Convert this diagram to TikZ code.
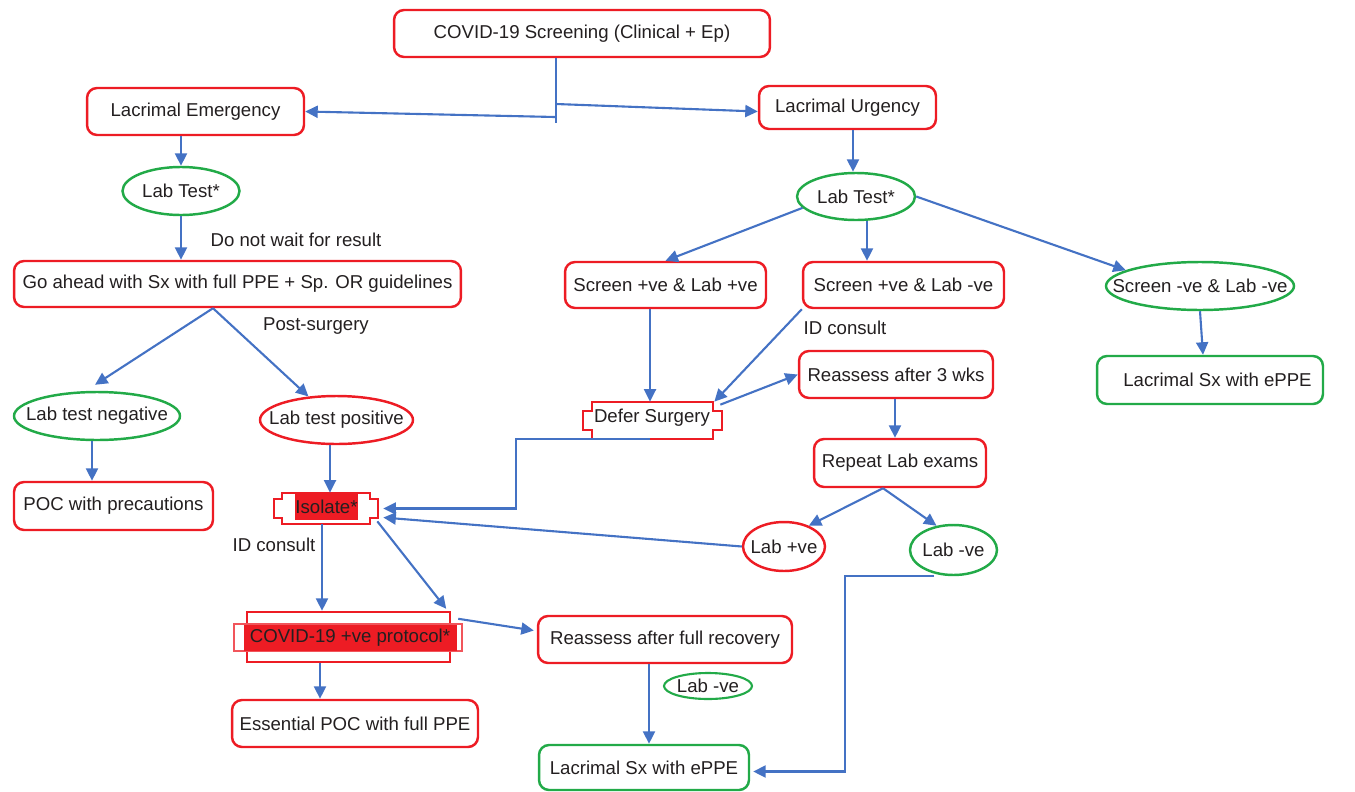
\documentclass[tikz,border=0pt]{standalone}
\usepackage{fontspec}
\setmainfont{Liberation Sans}
\usetikzlibrary{arrows.meta,calc,shapes.geometric}
\definecolor{bred}{RGB}{237,28,36}
\definecolor{bgreen}{RGB}{34,170,72}
\definecolor{ablue}{RGB}{68,114,196}
\definecolor{txt}{RGB}{35,31,32}
\tikzset{
 base/.style={font=\fontsize{10.6}{12.7}\selectfont, text=txt, inner sep=0pt, align=center},
 rbox/.style={base, draw=bred, line width=1.4pt, rounded corners=0.2cm, fill=white},
 gbox/.style={base, draw=bgreen, line width=1.4pt, rounded corners=0.2cm, fill=white},
 rell/.style={base, ellipse, draw=bred, line width=1.4pt},
 gell/.style={base, ellipse, draw=bgreen, line width=1.4pt},
 lbl/.style={base},
 arr/.style={draw=ablue, line width=1.2pt, -{Triangle[length=0.25cm,width=0.24cm]}},
}
\begin{document}
\begin{tikzpicture}[x=0.02cm,y=-0.02cm]
\useasboundingbox (0,0) rectangle (1355,791);
% ---- nodes
\node[rbox, minimum width=7.52cm, minimum height=0.94cm] (screen) at (582,33.5) {COVID-19 Screening (Clinical + Ep)};
\node[rbox, minimum width=4.34cm, minimum height=0.94cm] (lacEm) at (195.5,111.5) {Lacrimal Emergency};
\node[rbox, minimum width=3.54cm, minimum height=0.86cm] (lacUrg) at (847.5,107.5) {Lacrimal Urgency};
\node[gell, minimum width=2.34cm, minimum height=0.96cm, label={[base]center:Lab Test*}] (labEm) at (181,191) {};
\node[gell, minimum width=2.36cm, minimum height=0.94cm, label={[base]center:Lab Test*}] (labUrg) at (856,196.5) {};
\node[rbox, minimum width=8.94cm, minimum height=0.92cm] (goAhead) at (237.5,284) {Go ahead with Sx with full PPE + Sp. OR guidelines};
\node[lbl] (lblWait) at (296,240) {Do not wait for result};
\node[lbl] (lblPost) at (316,326) {Post-surgery};
\node[gell, minimum width=3.32cm, minimum height=0.96cm, label={[base]center:Lab test negative}] (labNeg) at (97,416) {};
\node[rell, minimum width=3.06cm, minimum height=0.96cm, label={[base]center:Lab test positive}] (labPos) at (336.5,420) {};
\node[rbox, minimum width=3.98cm, minimum height=0.96cm] (POC) at (113.5,506) {POC with precautions};
% isolate
\node[inner sep=0pt, minimum width=2.08cm, minimum height=0.62cm] (isolate) at (326,508.5) {};
\draw[bred, line width=1.4pt, fill=white] (282,493) -- (370,493) -- (370,499) -- (378,499) -- (378,518) -- (370,518) -- (370,524) -- (282,524) -- (282,518) -- (274,518) -- (274,499) -- (282,499) -- cycle;
\node[base, fill=bred, minimum width=1.22cm, minimum height=0.54cm] (isoTxt) at (326.5,506.5) {Isolate*};
\node[lbl] (lblID1) at (274,545) {ID consult};
% covid protocol
\node[draw=bred, line width=1.4pt, fill=white, inner sep=0pt, minimum width=4.06cm, minimum height=1.0cm] (covid) at (348.5,637) {};
\draw[bred!75, line width=1pt, fill=white] (234,624) rectangle (462,651);
\fill[bred] (244,625) rectangle (457,651);
\node[base] (covTxt) at (350,638) {COVID-19 +ve protocol*};
\node[rbox, minimum width=4.92cm, minimum height=0.94cm] (essPOC) at (355,723.5) {Essential POC with full PPE};
% right side
\node[rbox, minimum width=4.02cm, minimum height=0.92cm] (screenPP) at (665.5,285) {Screen +ve \& Lab +ve};
\node[rbox, minimum width=4.02cm, minimum height=0.92cm] (screenPN) at (903.5,285) {Screen +ve \& Lab -ve};
\node[gell, minimum width=3.76cm, minimum height=0.96cm, label={[base]center:Screen -ve \& Lab -ve}] (screenNN) at (1200,286) {};
\node[gbox, minimum width=4.52cm, minimum height=0.96cm] (lacSxR) at (1210,380) {\hspace*{0.3cm}Lacrimal Sx with ePPE};
\node[lbl] (lblID2) at (845,328) {ID consult};
\node[inner sep=0pt, minimum width=2.78cm, minimum height=0.74cm] (deferS) at (652.5,420.5) {};
\draw[bred, line width=1.4pt, fill=white] (592,402) -- (713,402) -- (713,411) -- (722,411) -- (722,430) -- (713,430) -- (713,439) -- (592,439) -- (592,430) -- (583,430) -- (583,411) -- (592,411) -- cycle;
\node[base] (defTxt) at (652,418) {Defer Surgery};
\node[rbox, minimum width=3.88cm, minimum height=0.94cm] (reassess3) at (896,374.5) {Reassess after 3 wks};
\node[rbox, minimum width=3.44cm, minimum height=0.96cm] (repeatLab) at (900,463) {Repeat Lab exams};
\node[rell, minimum width=1.64cm, minimum height=0.98cm, label={[base]center:Lab +ve}] (labPosR) at (784,546.5) {};
\node[gell, minimum width=1.74cm, minimum height=1.0cm, label={[base]center:Lab -ve}] (labNegR) at (953.5,550) {};
\node[rbox, minimum width=5.08cm, minimum height=0.94cm] (reassessFull) at (665,639.5) {Reassess after full recovery};
\node[gell, line width=1.2pt, minimum width=1.76cm, minimum height=0.52cm, label={[base]center:Lab -ve}] (labNegSmall) at (708,686) {};
\node[gbox, minimum width=4.2cm, minimum height=0.9cm] (lacSxB) at (644,767.5) {Lacrimal Sx with ePPE};
% ---- connectors
\coordinate (jL) at (555,117);
\coordinate (jR) at (556,104);
\coordinate (jB) at (556,123);
\draw[ablue, line width=0.7pt] (556,0 |- screen.south) -- (jB);
\draw[arr] (jL) -- (lacEm.east);
\draw[arr] (jR) -- ($(lacUrg.west)+(0,4)$);
\draw[arr] (181,0 |- lacEm.south) -- (labEm.north);
\draw[arr] (labEm.south) -- (181,0 |- goAhead.north);
\draw[arr] (213,0 |- goAhead.south) -- ($(labNeg.north)+(-2,-6)$);
\draw[arr] (213,0 |- goAhead.south) -- (labPos.140);
\draw[arr] (92,0 |- labNeg.south) -- (92,0 |- POC.north);
\draw[arr] (330,0 |- labPos.south) -- (330,0 |- isolate.north);
\draw[arr] (322,0 |- isolate.south) -- (322,0 |- covid.north);
\draw[arr] ($(isolate.south east)+(-1,-3)$) -- ($(covid.north east)+(-5,-2)$);
\draw[arr] ($(covid.north east)+(7,8)$) -- ($(reassessFull.west)+(-3,-9)$);
\draw[arr] (320,0 |- covid.south) -- (320,0 |- essPOC.north);
\draw[arr] (853,0 |- lacUrg.south) -- (853,0 |- labUrg.north);
\draw[arr] (labUrg.192) -- (screenPP.north);
\draw[arr] (867,0 |- labUrg.south) -- (867,0 |- screenPN.north);
\draw[arr] (labUrg.east) -- (screenNN.168);
\draw[arr] (1200,0 |- screenNN.south) -- (1203,0 |- lacSxR.north);
\draw[arr] (650,0 |- screenPP.south) -- (650,0 |- deferS.north);
\draw[arr] (screenPN.south west) -- ($(deferS.north east)+(-8,0)$);
\draw[arr] ($(deferS.north east)+(-2,3)$) -- (reassess3.west);
\draw[arr] (895,0 |- reassess3.south) -- (895,0 |- repeatLab.north);
\draw[arr] (883,0 |- repeatLab.south) -- (labPosR.40);
\draw[arr] (883,0 |- repeatLab.south) -- (labNegR.125);
\draw[arr] (labPosR.west) -- ($(isolate.east)+(5,9)$);
\draw[arr] (650,0 |- deferS.south) -| (516,0 |- isolate.east) -- ($(isolate.east)+(5,0)$);
\coordinate (lacIn) at ($(lacSxB.east)+(3,4)$);
\draw[arr] (934,0 |- labNegR.south) -| (845,0 |- lacIn) -- (lacIn);
\draw[arr] (649,0 |- reassessFull.south) -- (649,0 |- lacSxB.north);
\end{tikzpicture}
\end{document}
